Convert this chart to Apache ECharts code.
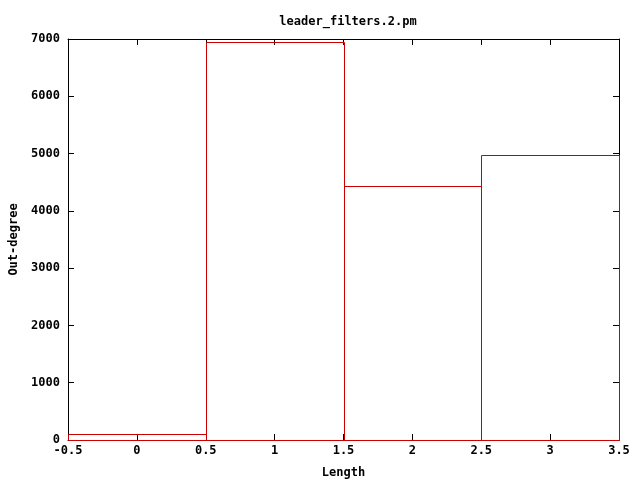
<!DOCTYPE html>
<html><head><meta charset="utf-8">
<script src="https://cdn.jsdelivr.net/npm/echarts@6/dist/echarts.min.js"></script>
<style>html,body{margin:0;padding:0;background:#fff}#c{width:640px;height:480px}</style>
</head><body><div id="c"></div>
<script>
var categories = [0, 1, 2, 3];
var values = [100, 6940, 4430, 4970];
var boxWidth = 1;
var titleText = 'leader_filters.2.pm';
var xName = 'Length';
var yName = 'Out-degree';

var font = 'DejaVu Sans Mono';
var fs = 12;
var chart = echarts.init(document.getElementById('c'), null, {renderer: 'canvas'});
var data = categories.map(function (c, i) { return [c, values[i]]; });
function ax(extra) {
  var base = {
    axisLine: {show: true, onZero: false, lineStyle: {color: '#000', width: 1}},
    axisTick: {show: true, inside: true, length: 6, lineStyle: {color: '#000'}},
    splitLine: {show: false},
    axisLabel: {color: '#000', fontFamily: font, fontWeight: 'bold', fontSize: fs,
      formatter: function (v) { return String(v); }}
  };
  return Object.assign(base, extra);
}
var nameStyle = {fontFamily: font, fontWeight: 'bold', fontSize: fs, color: '#000'};
chart.setOption({
  animation: false,
  backgroundColor: '#fff',
  title: {text: titleText, left: 343, top: 11, textAlign: 'center',
    textStyle: nameStyle},
  grid: {left: 68, right: 21, top: 39, bottom: 40, show: false, containLabel: false, outerBoundsMode: 'none'},
  xAxis: [
    ax({type: 'value', min: -0.5, max: 3.5, interval: 0.5, position: 'bottom',
      name: xName, nameLocation: 'middle', nameGap: 27, nameTextStyle: nameStyle,
      axisLabel: {color: '#000', fontFamily: font, fontWeight: 'bold', fontSize: fs, margin: 5,
        formatter: function (v) { return String(v); }}}),
    ax({type: 'value', min: -0.5, max: 3.5, interval: 0.5, position: 'top',
      axisLabel: {show: false}})
  ],
  yAxis: [
    ax({type: 'value', min: 0, max: 7000, interval: 1000, position: 'left',
      name: yName, nameLocation: 'middle', nameGap: 47, nameRotate: 90, nameTextStyle: nameStyle,
      axisLabel: {color: '#000', fontFamily: font, fontWeight: 'bold', fontSize: fs, margin: 8,
        formatter: function (v) { return String(v); }}}),
    ax({type: 'value', min: 0, max: 7000, interval: 1000, position: 'right',
      axisLabel: {show: false}})
  ],
  series: [{
    type: 'custom',
    xAxisIndex: 0, yAxisIndex: 0,
    data: data,
    z: 10,
    renderItem: function (params, api) {
      var x = api.value(0), y = api.value(1);
      var p0 = api.coord([x - boxWidth / 2, 0]);
      var p1 = api.coord([x + boxWidth / 2, y]);
      return {
        type: 'rect',
        shape: {x: Math.round(p0[0]) + 0.5, y: Math.round(p1[1]) + 0.5,
          width: Math.round(p1[0]) - Math.round(p0[0]), height: Math.round(p0[1]) - Math.round(p1[1])},
        style: {fill: null, stroke: '#cc0000', lineWidth: 1}
      };
    }
  }]
});
</script></body></html>
